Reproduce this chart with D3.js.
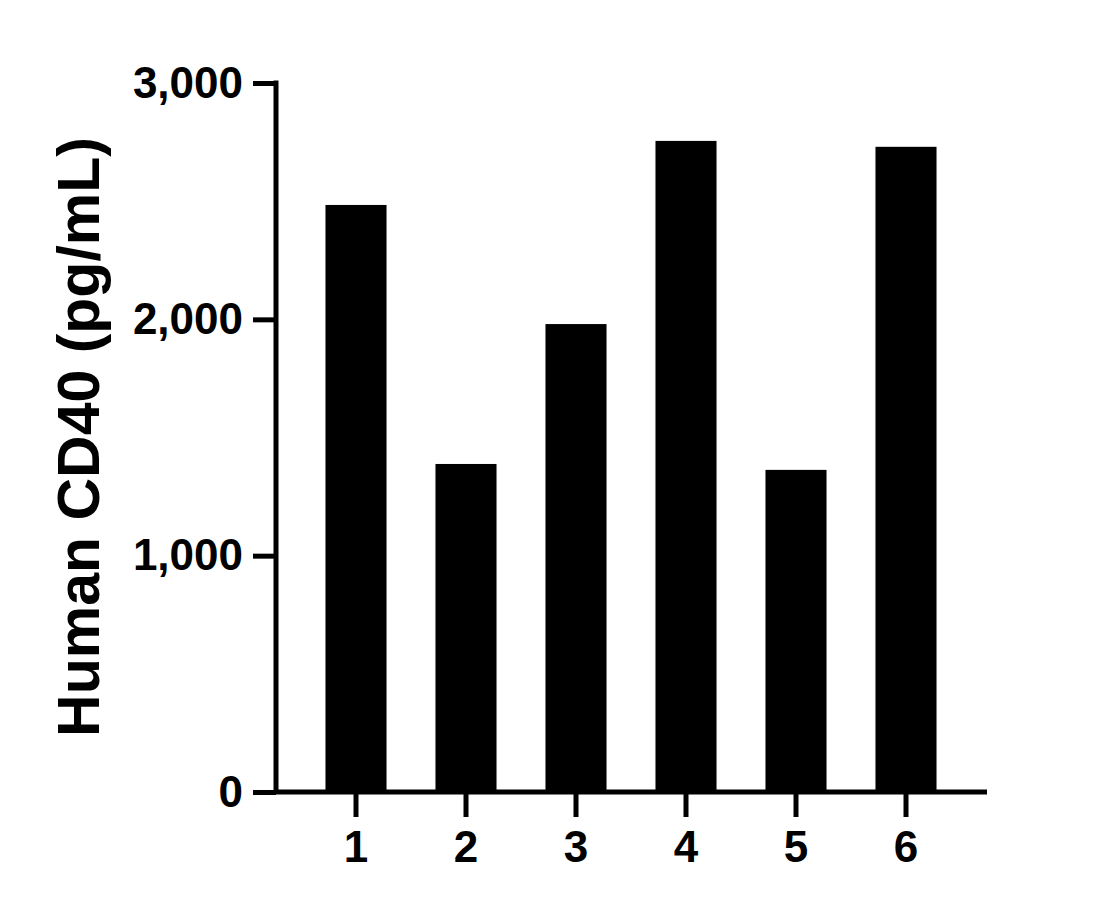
<!DOCTYPE html>
<html>
<head>
<meta charset="utf-8">
<script src="https://cdn.jsdelivr.net/npm/d3@7"></script>
<style>
  body { margin: 0; background: #fff; }
  text { font-family: "Liberation Sans", Arial, sans-serif; font-weight: bold; fill: #000; }
</style>
</head>
<body>
<div id="chart"></div>
<script>
const categories = ["1", "2", "3", "4", "5", "6"];
const values = [2484, 1388, 1980, 2755, 1363, 2730];
const yTicks = [0, 1000, 2000, 3000];
const yLabel = "Human CD40 (pg/mL)";

const width = 1119, height = 909;
const x0 = 276, x1 = 987, yTop = 83, yBottom = 792;

const svg = d3.select("#chart").append("svg")
    .attr("width", width)
    .attr("height", height);

const x = d3.scaleBand()
    .domain(categories)
    .range([301, 961])
    .paddingInner(0.445)
    .paddingOuter(0.2225);

const y = d3.scaleLinear()
    .domain([0, 3000])
    .range([yBottom, yTop]);

// bars
svg.append("g")
    .selectAll("rect")
    .data(values)
    .enter().append("rect")
    .attr("x", (d, i) => x(categories[i]))
    .attr("width", x.bandwidth())
    .attr("y", d => y(d))
    .attr("height", d => y(0) - y(d))
    .attr("fill", "#000");

// y axis
const yAxis = svg.append("g")
    .attr("transform", `translate(${x0},0)`)
    .call(d3.axisLeft(y).tickValues(yTicks).tickFormat(d3.format(",")).tickSize(23).tickPadding(10).tickSizeOuter(0));

// x axis
const xAxis = svg.append("g")
    .attr("transform", `translate(0,${yBottom})`)
    .call(d3.axisBottom(x).tickSize(25).tickPadding(14).tickSizeOuter(0));

[yAxis, xAxis].forEach(g => {
    g.select(".domain").remove();
    g.selectAll(".tick line").attr("stroke", "#000").attr("stroke-width", 5);
    g.selectAll(".tick text").style("font-size", "44px").attr("fill", "#000");
});

// axis lines drawn explicitly to get square corner
svg.append("path")
    .attr("d", `M${x0},${yTop - 2.5}V${yBottom}H${x1}`)
    .attr("fill", "none")
    .attr("stroke", "#000")
    .attr("stroke-width", 5)
    .attr("stroke-linejoin", "miter");

// y label
svg.append("text")
    .attr("transform", `translate(99,437) rotate(-90)`)
    .attr("text-anchor", "middle")
    .style("font-size", "59px")
    .text(yLabel);
</script>
</body>
</html>
